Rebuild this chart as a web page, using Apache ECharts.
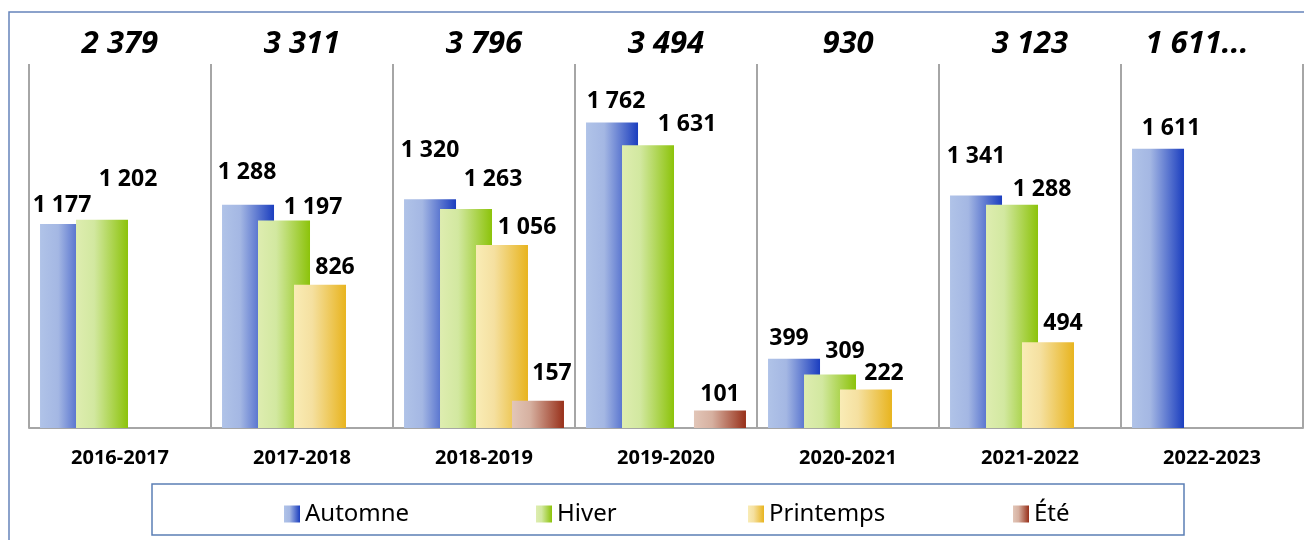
<!DOCTYPE html>
<html>
<head>
<meta charset="utf-8">
<script src="https://cdn.jsdelivr.net/npm/echarts@6/dist/echarts.min.js"></script>
<style>
  html, body { margin: 0; padding: 0; background: #fff; }
  #main { width: 1304px; height: 540px; }
</style>
</head>
<body>
<div id="main"></div>
<script>
// saisons
const seasons = ["2016-2017", "2017-2018", "2018-2019", "2019-2020", "2020-2021", "2021-2022", "2022-2023"];
const totals = ["2 379", "3 311", "3 796", "3 494", "930", "3 123", "1 611..."];

const automne = [1177, 1288, 1320, 1762, 399, 1341, 1611];
const hiver = [1202, 1197, 1263, 1631, 309, 1288, null];
const printemps = [null, 826, 1056, null, 222, 494, null];
const ete = [null, null, 157, 101, null, null, null];

// label placement (dx, height above bar top), like Excel did it
const automneLbl = [[-4, 18], [-1, 32], [0, 48], [4, 21], [-5, 20], [0, 39], [13, 20]];
const hiverLbl = [[26, 40], [29, 13], [27, 29], [39, 20], [15, 22], [30, 15], [0, 0]];
const printempsLbl = [[0, 0], [15, 17], [25, 17], [0, 0], [18, 16], [15, 18], [0, 0]];
const eteLbl = [[0, 0], [0, 0], [14, 27], [0, 16], [0, 0], [0, 0], [0, 0]];

const legendNames = ["Automne", "Hiver", "Printemps", "Été"];
const legendLeft = [279, 531, 743, 1008];

const FONT = "Noto Sans";

function fmt(v) {
  return String(v).replace(/\B(?=(\d{3})+(?!\d))/g, " ");
}

function grad(c1, c2, c3) {
  return new echarts.graphic.LinearGradient(0, 0, 1, 0, [
    { offset: 0, color: c1 },
    { offset: 0.35, color: c2 },
    { offset: 1, color: c3 },
  ]);
}

function makeData(values, lbl) {
  return values.map((v, i) => ({
    value: v,
    label: { offset: [lbl[i][0], -(lbl[i][1] - 16)] },
  }));
}

function makeSeries(name, values, lbl, color) {
  return {
    name: name,
    type: "bar",
    barWidth: 52,
    barGap: "-30.8%",
    itemStyle: { color: color },
    label: {
      show: true,
      position: "top",
      color: "#000",
      fontFamily: FONT,
      fontWeight: "bold",
      fontSize: 23,
      formatter: (p) => fmt(p.value),
    },
    data: makeData(values, lbl),
  };
}

const chart = echarts.init(document.getElementById("main"));
const option = {
  animation: false,
  backgroundColor: "#fff",
  graphic: [
    {
      type: "rect",
      shape: { x: 9, y: 12, width: 1400, height: 600 },
      style: { fill: "none", stroke: "#6584bb", lineWidth: 1.5 },
    },
    {
      type: "rect",
      shape: { x: 152, y: 484, width: 1032, height: 51 },
      style: { fill: "none", stroke: "#5b7fb5", lineWidth: 1.5 },
    },
  ],
  grid: { left: 29, right: 1, top: 64, bottom: 112 },
  legend: legendNames.map((n, i) => ({
    left: legendLeft[i],
    top: 497,
    icon: "rect",
    itemWidth: 16,
    itemHeight: 17,
    textStyle: { fontFamily: FONT, fontSize: 24, color: "#000" },
    data: [n],
  })),
  xAxis: [
    {
      type: "category",
      data: seasons,
      axisLine: { show: true, lineStyle: { color: "#a6a6a6", width: 2 } },
      axisTick: { show: false },
      splitLine: { show: true, interval: 0, lineStyle: { color: "#a6a6a6", width: 2 } },
      axisLabel: {
        interval: 0,
        color: "#000",
        fontFamily: FONT,
        fontWeight: "bold",
        fontSize: 20,
        margin: 20,
      },
    },
    {
      type: "category",
      position: "top",
      data: totals,
      axisLine: { show: false },
      axisTick: { show: false },
      axisLabel: {
        interval: 0,
        hideOverlap: false,
        color: "#000",
        fontFamily: FONT,
        fontWeight: "bold",
        fontStyle: "italic",
        fontSize: 31,
        margin: 4,
        formatter: (v) => (v.endsWith("...") ? v + "{pad|}" : v),
        rich: { pad: { width: 30 } },
      },
    },
  ],
  yAxis: { type: "value", min: 0, max: 2100, show: false, splitLine: { show: false } },
  series: [
    makeSeries("Automne", automne, automneLbl, grad("#b0c3e8", "#a4b7e3", "#1b3ebf")),
    makeSeries("Hiver", hiver, hiverLbl, grad("#deedb0", "#d2e8a0", "#8cc30a")),
    makeSeries("Printemps", printemps, printempsLbl, grad("#f9ecb6", "#f5e0a0", "#e8b41e")),
    makeSeries("Été", ete, eteLbl, grad("#e2c6b8", "#d6b0a0", "#98301a")),
  ],
};
chart.setOption(option);
</script>
</body>
</html>
